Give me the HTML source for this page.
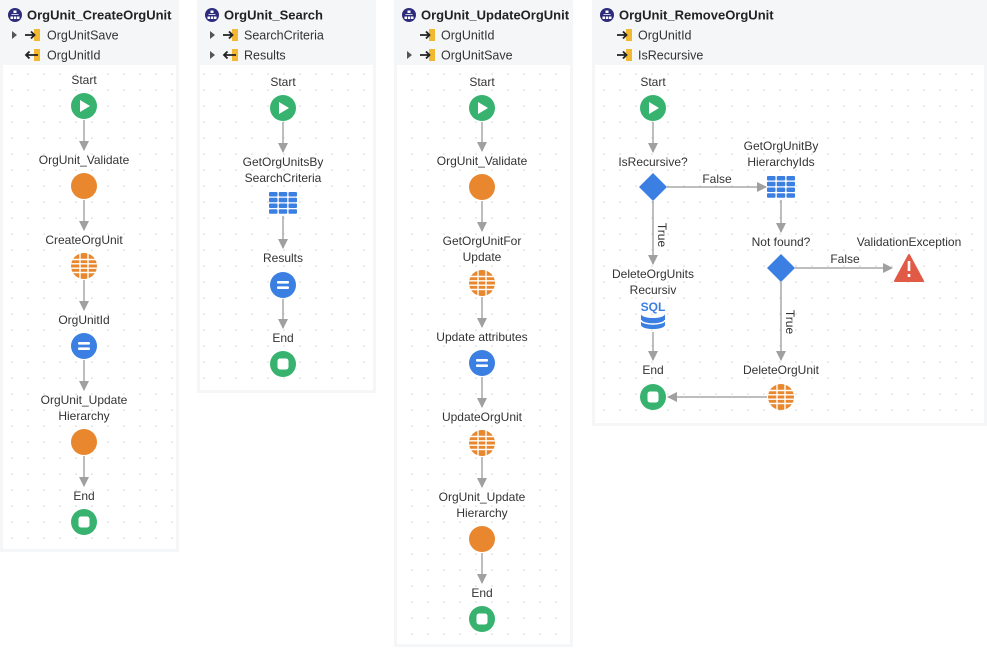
<!DOCTYPE html>
<html><head><meta charset="utf-8"><style>
html,body{margin:0;padding:0;background:#fff;}
svg{display:block;font-family:"Liberation Sans",sans-serif;}
.t{font-size:12px;fill:#333;text-anchor:middle;}
.h{font-size:13px;font-weight:bold;fill:#222;}
.p{font-size:12.5px;fill:#333;}
.ln{stroke:#a8a8a8;stroke-width:1.5;fill:none;}
</style></head><body>
<svg width="987" height="648" viewBox="0 0 987 648">
<defs>
<pattern id="dots" width="16" height="16" patternUnits="userSpaceOnUse" x="4" y="2">
<circle cx="8" cy="8" r="0.8" fill="#cfd3d8"/></pattern>
<marker id="ar" markerWidth="10" markerHeight="10" refX="9" refY="5" orient="auto" markerUnits="userSpaceOnUse">
<path d="M0,0 L10,5 L0,10 Z" fill="#a0a0a0"/></marker>
<g id="start"><circle r="13" fill="#37b36f"/><path d="M-4,-6 L6,0 L-4,6 Z" fill="#fff"/></g>
<g id="end"><circle r="13" fill="#37b36f"/><rect x="-5.5" y="-5.5" width="11" height="11" rx="2.5" fill="#fff"/></g>
<g id="orange"><circle r="13" fill="#e8872e"/></g>
<g id="agg"><circle r="13" fill="#e8872e"/>
<g stroke="#fff" stroke-width="1.4">
<line x1="-13" y1="-6.5" x2="13" y2="-6.5"/><line x1="-13" y1="-2.2" x2="13" y2="-2.2"/><line x1="-13" y1="2.2" x2="13" y2="2.2"/><line x1="-13" y1="6.5" x2="13" y2="6.5"/>
<line x1="-4" y1="-13" x2="-4" y2="13"/><line x1="4" y1="-13" x2="4" y2="13"/></g></g>
<g id="assign"><circle r="13" fill="#3b7fe3"/><rect x="-6" y="-4" width="12" height="2.6" rx="1" fill="#fff"/><rect x="-6" y="1.4" width="12" height="2.6" rx="1" fill="#fff"/></g>
<g id="table" fill="#3b7fe3">
<rect x="-14" y="-11" width="8.5" height="4.5" rx="1"/><rect x="-4.25" y="-11" width="8.5" height="4.5" rx="1"/><rect x="5.5" y="-11" width="8.5" height="4.5" rx="1"/>
<rect x="-14" y="-5.25" width="8.5" height="4.5" rx="1"/><rect x="-4.25" y="-5.25" width="8.5" height="4.5" rx="1"/><rect x="5.5" y="-5.25" width="8.5" height="4.5" rx="1"/>
<rect x="-14" y="0.5" width="8.5" height="4.5" rx="1"/><rect x="-4.25" y="0.5" width="8.5" height="4.5" rx="1"/><rect x="5.5" y="0.5" width="8.5" height="4.5" rx="1"/>
<rect x="-14" y="6.25" width="8.5" height="4.5" rx="1"/><rect x="-4.25" y="6.25" width="8.5" height="4.5" rx="1"/><rect x="5.5" y="6.25" width="8.5" height="4.5" rx="1"/></g>
<g id="dia"><path d="M0,-14 L14,0 L0,14 L-14,0 Z" fill="#3b7fe3"/></g>
<g id="flow"><circle r="7" fill="#2d2b7c"/><g fill="#fff"><rect x="-1.5" y="-4.5" width="3" height="2.5"/><rect x="-4.5" y="1.5" width="2.5" height="2.5"/><rect x="-1.2" y="1.5" width="2.5" height="2.5"/><rect x="2" y="1.5" width="2.5" height="2.5"/><rect x="-3.5" y="-0.8" width="7" height="0.8"/></g></g>
<g id="pin"><rect x="4" y="-6" width="6" height="12" fill="#f3b832"/><path d="M-5,0 H4 M1,-3.5 L4.5,0 L1,3.5" stroke="#222" stroke-width="1.8" fill="none"/></g>
<g id="pout"><rect x="4" y="-6" width="6" height="12" fill="#f3b832"/><path d="M8,0 H-4 M-0.5,-3.5 L-4,0 L-0.5,3.5" stroke="#222" stroke-width="1.8" fill="none"/></g>
<g id="caret"><path d="M-2,-4 L3,0 L-2,4 Z" fill="#555"/></g>
</defs>

<!-- Panels -->
<g>
<rect x="0" y="0" width="179" height="552" fill="#f4f6f8"/><rect x="3" y="65" width="173" height="484" fill="#fff"/><rect x="3" y="65" width="173" height="484" fill="url(#dots)"/>
<rect x="197" y="0" width="179" height="393" fill="#f4f6f8"/><rect x="200" y="65" width="173" height="325" fill="#fff"/><rect x="200" y="65" width="173" height="325" fill="url(#dots)"/>
<rect x="394" y="0" width="179" height="647" fill="#f4f6f8"/><rect x="397" y="65" width="173" height="579" fill="#fff"/><rect x="397" y="65" width="173" height="579" fill="url(#dots)"/>
<rect x="592" y="0" width="395" height="426" fill="#f4f6f8"/><rect x="595" y="65" width="389" height="358" fill="#fff"/><rect x="595" y="65" width="389" height="358" fill="url(#dots)"/>
</g>

<!-- Headers -->
<use href="#flow" x="15" y="15"/><text class="h" x="27" y="19.5">OrgUnit_CreateOrgUnit</text>
<use href="#caret" x="14" y="35"/><use href="#pin" x="30" y="35"/><text class="p" x="47" y="39.5">OrgUnitSave</text>
<use href="#pout" x="30" y="55"/><text class="p" x="47" y="59.5">OrgUnitId</text>

<use href="#flow" x="212" y="15"/><text class="h" x="224" y="19.5">OrgUnit_Search</text>
<use href="#caret" x="212" y="35"/><use href="#pin" x="228" y="35"/><text class="p" x="244" y="39.5">SearchCriteria</text>
<use href="#caret" x="212" y="55"/><use href="#pout" x="228" y="55"/><text class="p" x="244" y="59.5">Results</text>

<use href="#flow" x="409" y="15"/><text class="h" x="421" y="19.5">OrgUnit_UpdateOrgUnit</text>
<use href="#pin" x="425" y="35"/><text class="p" x="441" y="39.5">OrgUnitId</text>
<use href="#caret" x="409" y="55"/><use href="#pin" x="425" y="55"/><text class="p" x="441" y="59.5">OrgUnitSave</text>

<use href="#flow" x="607" y="15"/><text class="h" x="619" y="19.5">OrgUnit_RemoveOrgUnit</text>
<use href="#pin" x="622" y="35"/><text class="p" x="638" y="39.5">OrgUnitId</text>
<use href="#pin" x="622" y="55"/><text class="p" x="638" y="59.5">IsRecursive</text>

<!-- Panel 1 -->
<text class="t" x="84" y="84">Start</text><use href="#start" x="84" y="106"/>
<text class="t" x="84" y="164">OrgUnit_Validate</text><use href="#orange" x="84" y="186"/>
<text class="t" x="84" y="244">CreateOrgUnit</text><use href="#agg" x="84" y="266"/>
<text class="t" x="84" y="324">OrgUnitId</text><use href="#assign" x="84" y="346"/>
<text class="t" x="84" y="404">OrgUnit_Update</text><text class="t" x="84" y="420">Hierarchy</text><use href="#orange" x="84" y="442"/>
<text class="t" x="84" y="500">End</text><use href="#end" x="84" y="522"/>
<g class="ln" marker-end="url(#ar)">
<line x1="84" y1="120" x2="84" y2="150"/><line x1="84" y1="200" x2="84" y2="230"/><line x1="84" y1="280" x2="84" y2="310"/><line x1="84" y1="360" x2="84" y2="390"/><line x1="84" y1="456" x2="84" y2="486"/>
</g>

<!-- Panel 2 -->
<text class="t" x="283" y="86">Start</text><use href="#start" x="283" y="108"/>
<text class="t" x="283" y="166">GetOrgUnitsBy</text><text class="t" x="283" y="182">SearchCriteria</text><use href="#table" x="283" y="203"/>
<text class="t" x="283" y="262">Results</text><use href="#assign" x="283" y="285"/>
<text class="t" x="283" y="342">End</text><use href="#end" x="283" y="364"/>
<g class="ln" marker-end="url(#ar)">
<line x1="283" y1="122" x2="283" y2="152"/><line x1="283" y1="216" x2="283" y2="248"/><line x1="283" y1="299" x2="283" y2="328"/>
</g>

<!-- Panel 3 -->
<text class="t" x="482" y="86">Start</text><use href="#start" x="482" y="108"/>
<text class="t" x="482" y="165">OrgUnit_Validate</text><use href="#orange" x="482" y="187"/>
<text class="t" x="482" y="245">GetOrgUnitFor</text><text class="t" x="482" y="261">Update</text><use href="#agg" x="482" y="283"/>
<text class="t" x="482" y="341">Update attributes</text><use href="#assign" x="482" y="363"/>
<text class="t" x="482" y="421">UpdateOrgUnit</text><use href="#agg" x="482" y="443"/>
<text class="t" x="482" y="501">OrgUnit_Update</text><text class="t" x="482" y="517">Hierarchy</text><use href="#orange" x="482" y="539"/>
<text class="t" x="482" y="597">End</text><use href="#end" x="482" y="619"/>
<g class="ln" marker-end="url(#ar)">
<line x1="482" y1="122" x2="482" y2="151"/><line x1="482" y1="201" x2="482" y2="231"/><line x1="482" y1="297" x2="482" y2="327"/><line x1="482" y1="377" x2="482" y2="407"/><line x1="482" y1="457" x2="482" y2="487"/><line x1="482" y1="553" x2="482" y2="583"/>
</g>

<!-- Panel 4 -->
<text class="t" x="653" y="86">Start</text><use href="#start" x="653" y="108"/>
<text class="t" x="653" y="166">IsRecursive?</text><use href="#dia" x="653" y="187"/>
<text class="t" x="781" y="150">GetOrgUnitBy</text><text class="t" x="781" y="166">HierarchyIds</text><use href="#table" x="781" y="187"/>
<text class="t" x="717" y="183">False</text>
<text class="t" x="781" y="246">Not found?</text><use href="#dia" x="781" y="268"/>
<text class="t" x="909" y="246">ValidationException</text>
<path d="M909,255 L923,281 L895,281 Z" fill="#e05a45" stroke="#e05a45" stroke-width="2" stroke-linejoin="round"/>
<rect x="907.7" y="261" width="2.6" height="10" fill="#fff"/><rect x="907.7" y="274" width="2.6" height="3" fill="#fff"/>
<text class="t" x="845" y="263">False</text>
<text class="t" x="653" y="278">DeleteOrgUnits</text><text class="t" x="653" y="294">Recursiv</text>
<text x="653" y="311" style="font-size:12px;font-weight:bold;fill:#3b7fe3;text-anchor:middle">SQL</text>
<path d="M641,314 v11 a12,4 0 0 0 24,0 v-11 a12,4 0 0 1 -24,0 z" fill="#3b7fe3"/>
<path d="M641,320 a12,4 0 0 0 24,0" stroke="#fff" stroke-width="1.5" fill="none"/>
<text class="t" x="653" y="374">End</text><use href="#end" x="653" y="397"/>
<text class="t" x="781" y="374">DeleteOrgUnit</text><use href="#agg" x="781" y="397"/>
<text class="t" transform="translate(658,235) rotate(90)">True</text>
<text class="t" transform="translate(786,322) rotate(90)">True</text>
<g class="ln" marker-end="url(#ar)">
<line x1="653" y1="122" x2="653" y2="152"/>
<line x1="653" y1="201" x2="653" y2="264"/>
<line x1="653" y1="332" x2="653" y2="360"/>
<line x1="667" y1="187" x2="766" y2="187"/>
<line x1="781" y1="200" x2="781" y2="232"/>
<line x1="795" y1="268" x2="892" y2="268"/>
<line x1="781" y1="282" x2="781" y2="360"/>
<line x1="767" y1="397" x2="668" y2="397"/>
</g>
</svg>
</body></html>
